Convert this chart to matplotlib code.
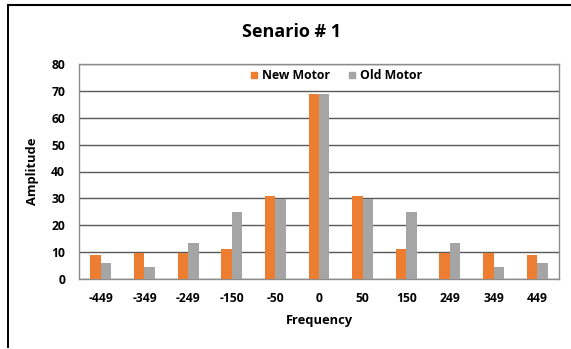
import matplotlib
matplotlib.use("Agg")
import matplotlib.pyplot as plt
import numpy as np
from matplotlib.lines import Line2D

# Spectrum amplitudes at each frequency bin
frequencies = ["-449", "-349", "-249", "-150", "-50", "0", "50", "150", "249", "349", "449"]
new_motor = [8.8, 9.5, 9.5, 11.0, 30.7, 68.7, 30.7, 11.0, 9.5, 9.5, 8.8]
old_motor = [6.1, 4.5, 13.5, 24.9, 29.6, 69.0, 29.6, 24.9, 13.5, 4.5, 6.1]
y_ticks = [0, 10, 20, 30, 40, 50, 60, 70, 80]

ORANGE = "#ED7D31"
GRAY = "#A5A5A5"
FONT = "Open Sans"
W, H = 571, 349

plt.rcParams["font.family"] = [FONT, "DejaVu Sans"]

fig = plt.figure(figsize=(W / 100, H / 100), dpi=100)
# plot area in pixels: x 79..559, y 64..279 (from top)
ax = fig.add_axes([79 / W, 1 - 279 / H, 480 / W, 215 / H])

x = np.arange(len(frequencies))
w = 0.24
ax.bar(x - w / 2, new_motor, width=w, color=ORANGE, zorder=3)
ax.bar(x + w / 2, old_motor, width=w, color=GRAY, zorder=3)

ax.set_xlim(-0.5, len(frequencies) - 0.5)
ax.set_ylim(0, 80)
ax.set_yticks(y_ticks)
ax.set_xticks(x)
ax.set_xticklabels(frequencies, fontsize=8.7, fontweight="bold")
ax.set_yticklabels([str(t) for t in y_ticks], fontsize=8.7, fontweight="bold")
ax.tick_params(length=0)
ax.tick_params(axis="x", pad=9)
ax.tick_params(axis="y", pad=10)

ax.yaxis.grid(True, color="#595959", linewidth=1.0, zorder=0)
for s in ax.spines.values():
    s.set_color("#8c8c8c")
    s.set_linewidth(1.0)

ax.set_xlabel("Frequency", fontsize=9.3, fontweight="bold", labelpad=7)
ax.set_ylabel("Amplitude", fontsize=9.3, fontweight="bold", labelpad=9)

fig.text(292 / W, 1 - 32 / H, "Senario # 1",
         ha="center", va="center", fontsize=13, fontweight="bold")

handles = [Line2D([], [], marker="s", linestyle="none", markersize=4.5, color=ORANGE),
           Line2D([], [], marker="s", linestyle="none", markersize=4.5, color=GRAY)]
leg = fig.legend(handles, ["New Motor", "Old Motor"], loc="center left",
                 bbox_to_anchor=(250 / W, 1 - 75.5 / H), bbox_transform=fig.transFigure,
                 ncol=2, frameon=False, borderpad=0, borderaxespad=0,
                 prop={"family": FONT, "weight": "bold", "size": 8.8},
                 handlelength=0.6, handletextpad=0.4, columnspacing=1.45)
leg.set_zorder(5)

# outer chart frame (left and top edges)
fig.add_artist(Line2D([7.5 / W, 7.5 / W], [1 - 347 / H, 1 - 5 / H],
                      color="black", linewidth=1.4, transform=fig.transFigure))
fig.add_artist(Line2D([7.5 / W, 1.0], [1 - 5 / H, 1 - 5 / H],
                      color="black", linewidth=1.5, transform=fig.transFigure))

fig.savefig("out.png", dpi=100)
